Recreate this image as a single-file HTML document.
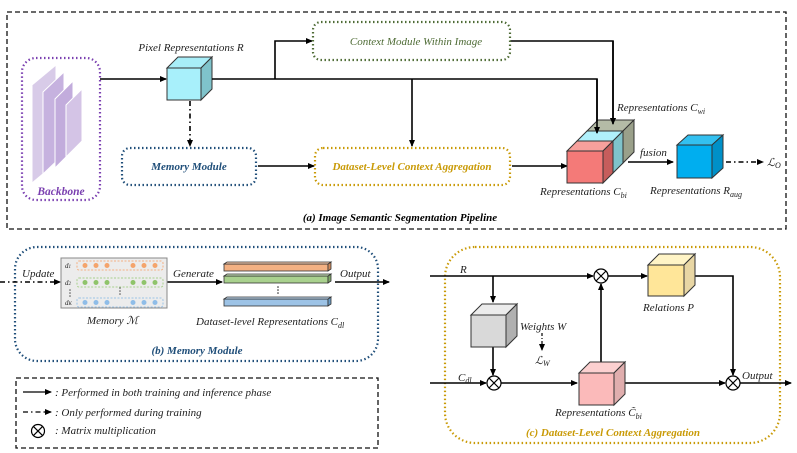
<!DOCTYPE html>
<html><head><meta charset="utf-8"><style>
html,body{margin:0;padding:0;background:#fff;}
svg{display:block;}
text{font-family:"Liberation Serif",serif;font-style:italic;font-size:11px;fill:#222;}
.b{font-weight:bold;}
</style></head><body>
<svg width="797" height="453" viewBox="0 0 797 453" xmlns="http://www.w3.org/2000/svg">
<defs>
<marker id="a" markerWidth="7" markerHeight="6" refX="6" refY="3" orient="auto" markerUnits="userSpaceOnUse"><path d="M0,0L7,3L0,6z" fill="#000"/></marker>
</defs>
<g fill="none" stroke="#000" stroke-width="1.6">
<!-- top dashed box -->
<rect x="7" y="12" width="779" height="217" stroke="#111" stroke-width="1.3" stroke-dasharray="5,3"/>
</g>
<!-- Backbone -->
<rect x="22" y="58" width="78" height="142" rx="14" fill="none" stroke="#7a3fb0" stroke-width="2.2" stroke-dasharray="1.5,2.5"/>
<g stroke="#fff" stroke-width="1">
<polygon points="32,85 56,65 56,163 32,183" fill="#d8cbe8"/>
<polygon points="43,92 64,72 64,154 43,174" fill="#c6b2df"/>
<polygon points="55,99 73,81 73,150 55,168" fill="#c2acdc"/>
<polygon points="66,105 82,89 82,141 66,157" fill="#d4c4e6"/>
</g>
<text x="61" y="195" text-anchor="middle" class="b" style="fill:#7a3fb0;font-size:11.5px">Backbone</text>
<!-- Pixel cube -->
<g stroke="#333" stroke-width="1">
<polygon points="167,68 178,57 212,57 201,68" fill="#a8eef8"/>
<polygon points="201,68 212,57 212,89 201,100" fill="#7fc3cb"/>
<rect x="167" y="68" width="34" height="32" fill="#a8f0fb"/>
</g>
<text x="191" y="51" text-anchor="middle">Pixel Representations R</text>
<!-- lines -->
<g fill="none" stroke="#000" stroke-width="1.6">
<line x1="100" y1="79" x2="166" y2="79" marker-end="url(#a)"/>
<polyline points="212,79 597,79 597,133" marker-end="url(#a)"/>
<polyline points="275,79 275,41 312,41" marker-end="url(#a)"/>
<line x1="412" y1="79" x2="412" y2="146" marker-end="url(#a)"/>
<polyline points="510,41 613,41 613,124" marker-end="url(#a)"/>
<line x1="190" y1="101" x2="190" y2="146" stroke-dasharray="5,3,1.5,3" marker-end="url(#a)"/>
<line x1="258" y1="166" x2="314" y2="166" marker-end="url(#a)"/>
<line x1="512" y1="166" x2="567" y2="166" marker-end="url(#a)"/>
<line x1="628" y1="162" x2="673" y2="162" marker-end="url(#a)"/>
<line x1="726" y1="162" x2="763" y2="162" stroke-dasharray="5,3,1.5,3" marker-end="url(#a)"/>
</g>
<rect x="313" y="22" width="197" height="38" rx="8" fill="none" stroke="#4e6b35" stroke-width="2.2" stroke-dasharray="1.5,2.5"/>
<text x="416" y="45" text-anchor="middle" style="fill:#4e6b35">Context Module Within Image</text>
<rect x="122" y="148" width="134" height="37" rx="8" fill="none" stroke="#1f4e79" stroke-width="2.2" stroke-dasharray="1.5,2.5"/>
<text x="189" y="170" text-anchor="middle" class="b" style="fill:#1f4e79">Memory Module</text>
<rect x="315" y="148" width="195" height="37" rx="8" fill="none" stroke="#c99a06" stroke-width="2.2" stroke-dasharray="1.5,2.5"/>
<text x="412" y="170" text-anchor="middle" class="b" style="fill:#c99a06">Dataset-Level Context Aggregation</text>
<!-- stacked cuboid -->
<g stroke="#333" stroke-width="1">
<polygon points="587,131 623,131 634,120 598,120" fill="#b4bba6"/>
<polygon points="623,131 634,120 634,152 623,163" fill="#9aa08a"/>
<polygon points="577,141 613,141 623,131 587,131" fill="#b0f0fb"/>
<polygon points="613,141 623,131 623,163 613,173" fill="#7fc3cb"/>
<polygon points="567,151 603,151 613,141 577,141" fill="#f7a09c"/>
<polygon points="603,151 613,141 613,173 603,183" fill="#c65d5c"/>
<rect x="567" y="151" width="36" height="32" fill="#f47a78"/>
</g>
<line x1="597" y1="79" x2="597" y2="133" stroke="#000" stroke-width="1.6" marker-end="url(#a)"/>
<line x1="613" y1="41" x2="613" y2="124" stroke="#000" stroke-width="1.6" marker-end="url(#a)"/>
<text x="617" y="111">Representations C<tspan font-size="8" dy="3">wi</tspan></text>
<text x="540" y="195">Representations C<tspan font-size="8" dy="3">bi</tspan></text>
<text x="640" y="156">fusion</text>
<!-- blue cube -->
<g stroke="#333" stroke-width="1">
<polygon points="677,145 688,135 723,135 712,145" fill="#33c0f0"/>
<polygon points="712,145 723,135 723,168 712,178" fill="#0090c8"/>
<rect x="677" y="145" width="35" height="33" fill="#00aeef"/>
</g>
<text x="650" y="194">Representations R<tspan font-size="8" dy="3">aug</tspan></text>
<text x="767" y="166">ℒ<tspan font-size="8" dy="2">O</tspan></text>
<text x="400" y="221" text-anchor="middle" class="b" style="fill:#000">(a) Image Semantic Segmentation Pipeline</text>

<!-- (b) memory module -->
<rect x="15" y="247" width="363" height="114" rx="22" fill="none" stroke="#1f4e79" stroke-width="2.2" stroke-dasharray="1.5,2.5"/>
<g fill="none" stroke="#000" stroke-width="1.6">
<line x1="0" y1="282" x2="60" y2="282" stroke-dasharray="5,3,1.5,3" marker-end="url(#a)"/>
<line x1="167" y1="282" x2="222" y2="282" marker-end="url(#a)"/>
<line x1="335" y1="282" x2="389" y2="282" marker-end="url(#a)"/>
</g>
<text x="22" y="277">Update</text>
<text x="173" y="277">Generate</text>
<text x="340" y="277">Output</text>
<rect x="61" y="258" width="106" height="50" fill="#ececec" stroke="#888" stroke-width="1"/>
<g font-size="7">
<text x="65" y="268" style="font-size:7px">d<tspan style="font-size:5px">1</tspan></text>
<text x="65" y="285" style="font-size:7px">d<tspan style="font-size:5px">2</tspan></text>
<text x="65" y="305" style="font-size:7px">d<tspan style="font-size:5px">K</tspan></text>
</g>
<rect x="77" y="261" width="86" height="9" rx="2" fill="none" stroke="#f4b183" stroke-dasharray="2,1.5"/>
<rect x="77" y="278" width="86" height="9" rx="2" fill="none" stroke="#a9d18e" stroke-dasharray="2,1.5"/>
<rect x="77" y="298" width="86" height="9" rx="2" fill="none" stroke="#9dc3e6" stroke-dasharray="2,1.5"/>
<g fill="#f4a46c"><circle cx="85" cy="265.5" r="2.5"/><circle cx="96" cy="265.5" r="2.5"/><circle cx="107" cy="265.5" r="2.5"/><circle cx="133" cy="265.5" r="2.5"/><circle cx="144" cy="265.5" r="2.5"/><circle cx="155" cy="265.5" r="2.5"/></g>
<g fill="#8fc46a"><circle cx="85" cy="282.5" r="2.5"/><circle cx="96" cy="282.5" r="2.5"/><circle cx="107" cy="282.5" r="2.5"/><circle cx="133" cy="282.5" r="2.5"/><circle cx="144" cy="282.5" r="2.5"/><circle cx="155" cy="282.5" r="2.5"/></g>
<g fill="#8fbde8"><circle cx="85" cy="302.5" r="2.5"/><circle cx="96" cy="302.5" r="2.5"/><circle cx="107" cy="302.5" r="2.5"/><circle cx="133" cy="302.5" r="2.5"/><circle cx="144" cy="302.5" r="2.5"/><circle cx="155" cy="302.5" r="2.5"/></g>
<g fill="#555"><circle cx="70" cy="290" r="0.8"/><circle cx="70" cy="293" r="0.8"/><circle cx="70" cy="296" r="0.8"/><circle cx="120" cy="288" r="0.8"/><circle cx="120" cy="291" r="0.8"/><circle cx="120" cy="294" r="0.8"/></g>
<text x="87" y="324">Memory ℳ</text>
<g stroke="#333" stroke-width="0.8">
<rect x="224" y="264" width="104" height="7" fill="#f4b183"/><polygon points="328,264 331,262 331,269 328,271" fill="#d08a5c"/><polygon points="224,264 227,262 331,262 328,264" fill="#f8cbad"/>
<rect x="224" y="276" width="104" height="7" fill="#a9d18e"/><polygon points="328,276 331,274 331,281 328,283" fill="#7ea868"/><polygon points="224,276 227,274 331,274 328,276" fill="#c5e0b4"/>
<rect x="224" y="299" width="104" height="7" fill="#9dc3e6"/><polygon points="328,299 331,297 331,304 328,306" fill="#6a9cc6"/><polygon points="224,299 227,297 331,297 328,299" fill="#bdd7ee"/>
</g>
<g fill="#222"><circle cx="278" cy="287" r="0.8"/><circle cx="278" cy="290" r="0.8"/><circle cx="278" cy="293" r="0.8"/></g>
<text x="196" y="325">Dataset-level Representations C<tspan font-size="8" dy="3">dl</tspan></text>
<text x="197" y="354" text-anchor="middle" class="b" style="fill:#1f4e79">(b) Memory Module</text>

<!-- legend -->
<rect x="16" y="378" width="362" height="70" fill="none" stroke="#111" stroke-width="1.3" stroke-dasharray="5,3"/>
<line x1="23" y1="392" x2="51" y2="392" stroke="#000" stroke-width="1.3" marker-end="url(#a)"/>
<line x1="23" y1="412" x2="51" y2="412" stroke="#000" stroke-width="1.3" stroke-dasharray="5,3,1.5,3" marker-end="url(#a)"/>
<circle cx="38" cy="431" r="6.5" fill="#fff" stroke="#000" stroke-width="1.2"/>
<path d="M33.4,426.4L42.6,435.6M42.6,426.4L33.4,435.6" stroke="#000" stroke-width="1.2"/>
<text x="55" y="396">:  Performed in both training and inference phase</text>
<text x="55" y="416">:  Only performed during training</text>
<text x="55" y="434">:  Matrix multiplication</text>

<!-- (c) -->
<rect x="445" y="247" width="335" height="196" rx="30" fill="none" stroke="#c99a06" stroke-width="2.2" stroke-dasharray="1.5,2.5"/>
<g fill="none" stroke="#000" stroke-width="1.6">
<line x1="430" y1="276" x2="593" y2="276" marker-end="url(#a)"/>
<line x1="493" y1="276" x2="493" y2="302" marker-end="url(#a)"/>
<line x1="493" y1="347" x2="493" y2="375" marker-end="url(#a)"/>
<line x1="430" y1="383" x2="486" y2="383" marker-end="url(#a)"/>
<line x1="501" y1="383" x2="577" y2="383" marker-end="url(#a)"/>
<line x1="601" y1="362" x2="601" y2="284" marker-end="url(#a)"/>
<line x1="608" y1="276" x2="647" y2="276" marker-end="url(#a)"/>
<polyline points="695,276 733,276 733,375" marker-end="url(#a)"/>
<line x1="625" y1="383" x2="725" y2="383" marker-end="url(#a)"/>
<line x1="740" y1="383" x2="791" y2="383" marker-end="url(#a)"/>
<line x1="542" y1="333" x2="542" y2="350" stroke-width="1.2" stroke-dasharray="3,2,1,2" marker-end="url(#a)"/>
</g>
<g stroke="#333" stroke-width="1">
<polygon points="471,315 482,304 517,304 506,315" fill="#ececec"/>
<polygon points="506,315 517,304 517,336 506,347" fill="#b0b0b0"/>
<rect x="471" y="315" width="35" height="32" fill="#d9d9d9"/>
<polygon points="579,373 590,362 625,362 614,373" fill="#fcd0d0"/>
<polygon points="614,373 625,362 625,394 614,405" fill="#e0aeae"/>
<rect x="579" y="373" width="35" height="32" fill="#fbbaba"/>
<polygon points="648,265 659,254 695,254 684,265" fill="#fff4c6"/>
<polygon points="684,265 695,254 695,285 684,296" fill="#e8d6a4"/>
<rect x="648" y="265" width="36" height="31" fill="#ffe699"/>
</g>
<g fill="#fff" stroke="#000" stroke-width="1.2">
<circle cx="601" cy="276" r="7"/><circle cx="494" cy="383" r="7"/><circle cx="733" cy="383" r="7"/>
</g>
<path d="M596,271L606,281M606,271L596,281M489,378L499,388M499,378L489,388M728,378L738,388M738,378L728,388" stroke="#000" stroke-width="1.2"/>
<text x="460" y="273">R</text>
<text x="458" y="381">C<tspan font-size="8" dy="2">dl</tspan></text>
<text x="520" y="330">Weights W</text>
<text x="535" y="364">ℒ<tspan font-size="8" dy="2">W</tspan></text>
<text x="643" y="311">Relations P</text>
<text x="742" y="379">Output</text>
<text x="555" y="416">Representations C̃<tspan font-size="8" dy="3">bi</tspan></text>
<text x="613" y="436" text-anchor="middle" class="b" style="fill:#c99a06">(c) Dataset-Level Context Aggregation</text>
</svg>
</body></html>
